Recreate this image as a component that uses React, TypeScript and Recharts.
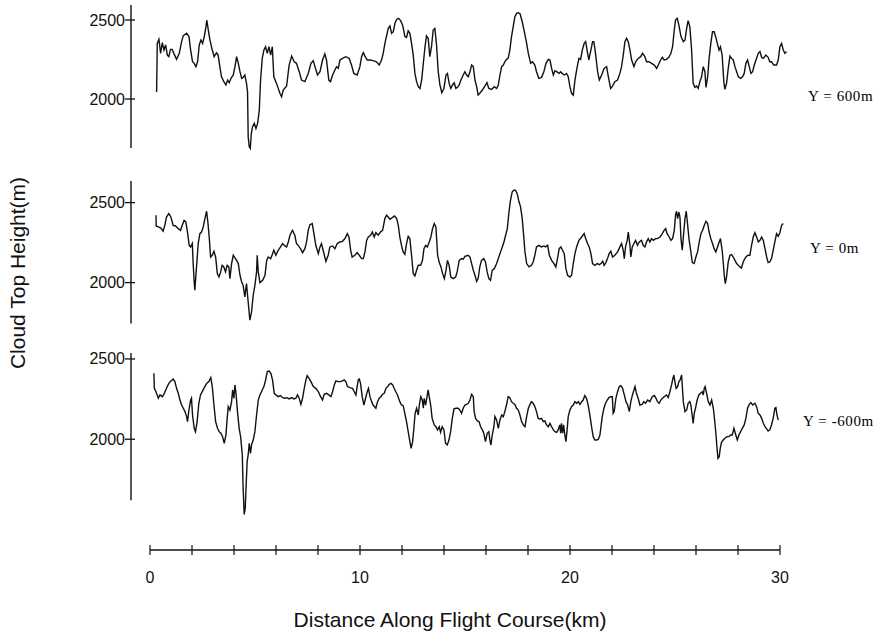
import React from 'react';
import { LineChart, Line, XAxis, YAxis, ReferenceLine } from 'recharts';

// distance along flight course (km), cloud top height (m)
const trackY600: [number, number][] = [
  [0.32, 2045], [0.35, 2352], [0.43, 2378], [0.51, 2289], [0.59, 2357], [0.67, 2310], [0.75, 2342], [0.83, 2278], [0.9, 2268], [0.98, 2314],
  [1.06, 2314], [1.14, 2289], [1.27, 2251], [1.4, 2289], [1.51, 2363], [1.59, 2401], [1.75, 2416], [1.86, 2395], [1.94, 2310], [2.03, 2236],
  [2.11, 2226], [2.19, 2205], [2.27, 2236], [2.35, 2342], [2.43, 2373], [2.51, 2352], [2.59, 2395], [2.67, 2458], [2.71, 2500], [2.78, 2437],
  [2.86, 2373], [2.97, 2310], [3.06, 2268], [3.17, 2293], [3.25, 2278], [3.33, 2205], [3.41, 2141], [3.52, 2110], [3.62, 2089], [3.7, 2120],
  [3.78, 2103], [3.86, 2131], [3.97, 2152], [4.05, 2205], [4.13, 2268], [4.21, 2226], [4.29, 2173], [4.37, 2131], [4.44, 2137], [4.52, 2152],
  [4.6, 2099], [4.65, 2046], [4.68, 1762], [4.73, 1698], [4.78, 1688], [4.83, 1783], [4.89, 1825], [4.97, 1846], [5.05, 1814], [5.13, 1846],
  [5.21, 1930], [5.27, 2120], [5.35, 2257], [5.43, 2310], [5.51, 2331], [5.59, 2289], [5.67, 2331], [5.75, 2278], [5.83, 2331], [5.9, 2141],
  [6.03, 2099], [6.19, 2036], [6.27, 2015], [6.35, 2057], [6.51, 2082], [6.63, 2215], [6.75, 2272], [6.87, 2236], [6.98, 2226], [7.11, 2173],
  [7.22, 2120], [7.38, 2110], [7.54, 2162], [7.67, 2226], [7.78, 2243], [7.86, 2205], [7.98, 2152], [8.1, 2173], [8.22, 2247], [8.33, 2285],
  [8.41, 2247], [8.52, 2120], [8.6, 2110], [8.7, 2152], [8.81, 2184], [8.89, 2205], [8.97, 2194], [9.05, 2247], [9.17, 2257], [9.33, 2268],
  [9.49, 2257], [9.6, 2215], [9.71, 2162], [9.87, 2152], [10, 2205], [10.08, 2268], [10.16, 2293], [10.24, 2272], [10.35, 2247], [10.48, 2247],
  [10.63, 2243], [10.79, 2236], [10.92, 2215], [11.03, 2247], [11.11, 2289], [11.19, 2352], [11.27, 2399], [11.35, 2447], [11.43, 2462], [11.51, 2416],
  [11.59, 2426], [11.67, 2479], [11.75, 2504], [11.84, 2511], [11.94, 2496], [12.03, 2468], [12.1, 2426], [12.14, 2395], [12.22, 2390], [12.3, 2432],
  [12.38, 2416], [12.46, 2352], [12.54, 2278], [12.62, 2162], [12.7, 2110], [12.78, 2078], [12.86, 2067], [12.94, 2120], [13.02, 2226], [13.1, 2331],
  [13.17, 2399], [13.25, 2384], [13.33, 2268], [13.41, 2331], [13.49, 2437], [13.57, 2447], [13.65, 2342], [13.73, 2173], [13.81, 2089], [13.9, 2040],
  [14, 2067], [14.1, 2152], [14.17, 2162], [14.25, 2099], [14.33, 2067], [14.41, 2089], [14.49, 2103], [14.57, 2067], [14.65, 2074], [14.73, 2089],
  [14.81, 2120], [14.92, 2152], [15, 2173], [15.08, 2152], [15.16, 2141], [15.24, 2173], [15.32, 2215], [15.4, 2205], [15.48, 2120], [15.56, 2078],
  [15.63, 2025], [15.71, 2036], [15.83, 2057], [15.95, 2082], [16.05, 2103], [16.14, 2067], [16.27, 2061], [16.4, 2078], [16.51, 2067], [16.59, 2089],
  [16.67, 2152], [16.75, 2205], [16.83, 2215], [16.9, 2236], [16.98, 2251], [17.06, 2257], [17.14, 2310], [17.22, 2395], [17.3, 2458], [17.38, 2521],
  [17.46, 2542], [17.54, 2546], [17.63, 2538], [17.73, 2489], [17.83, 2426], [17.94, 2352], [18.02, 2289], [18.13, 2226], [18.22, 2236], [18.33, 2215],
  [18.41, 2173], [18.52, 2131], [18.65, 2137], [18.76, 2173], [18.86, 2226], [18.97, 2251], [19.05, 2247], [19.13, 2194], [19.21, 2152], [19.29, 2179],
  [19.37, 2173], [19.48, 2162], [19.56, 2173], [19.63, 2162], [19.73, 2152], [19.84, 2162], [19.92, 2141], [20, 2078], [20.08, 2036], [20.16, 2025],
  [20.24, 2120], [20.35, 2205], [20.43, 2257], [20.51, 2251], [20.59, 2310], [20.68, 2352], [20.75, 2363], [20.83, 2300], [20.9, 2247], [21, 2310],
  [21.08, 2363], [21.14, 2363], [21.22, 2289], [21.32, 2173], [21.4, 2120], [21.51, 2152], [21.63, 2194], [21.75, 2205], [21.83, 2141], [21.94, 2067],
  [22.03, 2082], [22.14, 2110], [22.27, 2120], [22.38, 2162], [22.46, 2205], [22.54, 2278], [22.62, 2363], [22.7, 2384], [22.78, 2363], [22.86, 2310],
  [22.94, 2247], [23.05, 2205], [23.13, 2236], [23.25, 2257], [23.37, 2268], [23.46, 2289], [23.57, 2268], [23.65, 2236], [23.76, 2236], [23.89, 2226],
  [24.02, 2215], [24.13, 2194], [24.21, 2215], [24.32, 2247], [24.4, 2264], [24.49, 2247], [24.6, 2251], [24.71, 2264], [24.81, 2289], [24.89, 2331],
  [24.97, 2437], [25.03, 2500], [25.11, 2511], [25.19, 2468], [25.29, 2395], [25.4, 2363], [25.48, 2373], [25.56, 2447], [25.63, 2496], [25.71, 2458],
  [25.79, 2321], [25.87, 2099], [25.95, 2074], [26.03, 2082], [26.11, 2067], [26.19, 2110], [26.27, 2141], [26.35, 2205], [26.43, 2173], [26.48, 2074],
  [26.56, 2141], [26.63, 2257], [26.71, 2352], [26.79, 2426], [26.87, 2426], [26.94, 2395], [27.02, 2352], [27.1, 2310], [27.17, 2331], [27.25, 2278],
  [27.33, 2110], [27.38, 2061], [27.46, 2099], [27.54, 2194], [27.62, 2272], [27.7, 2257], [27.78, 2247], [27.86, 2205], [27.94, 2173], [28.02, 2141],
  [28.13, 2131], [28.22, 2141], [28.3, 2162], [28.38, 2226], [28.46, 2247], [28.54, 2205], [28.62, 2162], [28.7, 2173], [28.78, 2215], [28.86, 2247],
  [28.97, 2289], [29.05, 2300], [29.13, 2264], [29.21, 2257], [29.33, 2278], [29.44, 2264], [29.52, 2236], [29.6, 2236], [29.71, 2215], [29.84, 2215],
  [29.92, 2247], [30, 2331], [30.08, 2352], [30.16, 2310], [30.24, 2289], [30.32, 2300],
];

const trackY0: [number, number][] = [
  [0.29, 2421], [0.3, 2354], [0.4, 2348], [0.52, 2341], [0.63, 2321], [0.71, 2358], [0.79, 2410], [0.9, 2431], [1, 2410], [1.11, 2358],
  [1.22, 2354], [1.35, 2337], [1.46, 2327], [1.54, 2358], [1.63, 2389], [1.71, 2379], [1.79, 2316], [1.87, 2233], [1.94, 2223], [2.02, 2244],
  [2.06, 2119], [2.11, 2004], [2.14, 1952], [2.19, 2046], [2.25, 2150], [2.3, 2244], [2.38, 2306], [2.46, 2316], [2.54, 2348], [2.62, 2400],
  [2.7, 2446], [2.76, 2379], [2.83, 2275], [2.89, 2160], [2.97, 2171], [3.05, 2196], [3.13, 2160], [3.21, 2056], [3.29, 2035], [3.37, 2067],
  [3.44, 2108], [3.52, 2098], [3.6, 2067], [3.68, 2108], [3.76, 2098], [3.81, 2025], [3.89, 2119], [3.97, 2171], [4.05, 2154], [4.13, 2139],
  [4.21, 2119], [4.29, 2046], [4.37, 2004], [4.44, 1983], [4.52, 1910], [4.6, 1994], [4.65, 1921], [4.71, 1837], [4.76, 1765], [4.84, 1817],
  [4.92, 1921], [5, 1983], [5.08, 2067], [5.11, 2171], [5.16, 2067], [5.24, 2000], [5.37, 2014], [5.48, 2046], [5.56, 2139], [5.63, 2160],
  [5.75, 2150], [5.83, 2175], [5.9, 2202], [6, 2171], [6.11, 2202], [6.22, 2223], [6.32, 2244], [6.43, 2229], [6.51, 2223], [6.59, 2254],
  [6.67, 2296], [6.79, 2327], [6.9, 2296], [6.98, 2244], [7.06, 2233], [7.17, 2212], [7.27, 2187], [7.38, 2212], [7.46, 2254], [7.54, 2327],
  [7.62, 2362], [7.73, 2369], [7.81, 2306], [7.9, 2233], [8.02, 2181], [8.1, 2223], [8.17, 2244], [8.25, 2202], [8.38, 2133], [8.49, 2171],
  [8.57, 2223], [8.7, 2229], [8.81, 2212], [8.92, 2244], [9.05, 2254], [9.17, 2258], [9.29, 2275], [9.4, 2306], [9.48, 2285], [9.56, 2202],
  [9.63, 2160], [9.76, 2171], [9.87, 2187], [9.97, 2171], [10.08, 2150], [10.16, 2150], [10.24, 2192], [10.32, 2264], [10.4, 2285], [10.51, 2296],
  [10.59, 2316], [10.68, 2285], [10.76, 2312], [10.87, 2296], [10.98, 2316], [11.08, 2327], [11.19, 2400], [11.27, 2421], [11.35, 2410], [11.43, 2396],
  [11.54, 2406], [11.65, 2416], [11.75, 2400], [11.83, 2358], [11.9, 2285], [11.98, 2233], [12.06, 2192], [12.14, 2177], [12.22, 2244], [12.3, 2289],
  [12.38, 2275], [12.46, 2171], [12.54, 2056], [12.62, 2042], [12.7, 2077], [12.78, 2108], [12.89, 2108], [12.98, 2139], [13.05, 2212], [13.13, 2233],
  [13.21, 2223], [13.3, 2254], [13.38, 2285], [13.46, 2337], [13.54, 2369], [13.62, 2348], [13.7, 2171], [13.78, 2125], [13.86, 2098], [13.94, 2056],
  [14.02, 2025], [14.1, 2077], [14.17, 2139], [14.25, 2108], [14.33, 2035], [14.44, 2025], [14.56, 2035], [14.63, 2067], [14.73, 2139], [14.84, 2150],
  [14.92, 2146], [15, 2164], [15.16, 2171], [15.24, 2160], [15.32, 2119], [15.4, 2077], [15.48, 2046], [15.56, 2008], [15.63, 2025], [15.71, 2098],
  [15.79, 2139], [15.9, 2150], [15.98, 2129], [16.06, 2067], [16.14, 2025], [16.22, 2014], [16.3, 2077], [16.4, 2087], [16.51, 2119], [16.59, 2150],
  [16.7, 2192], [16.78, 2223], [16.86, 2254], [16.94, 2296], [17.02, 2337], [17.1, 2441], [17.17, 2514], [17.25, 2566], [17.33, 2577], [17.41, 2577],
  [17.49, 2556], [17.57, 2508], [17.65, 2473], [17.73, 2400], [17.79, 2306], [17.86, 2192], [17.94, 2119], [18.05, 2098], [18.17, 2108], [18.25, 2129],
  [18.33, 2171], [18.41, 2223], [18.52, 2233], [18.65, 2223], [18.76, 2229], [18.84, 2223], [18.94, 2233], [19.02, 2171], [19.13, 2139], [19.24, 2119],
  [19.33, 2098], [19.41, 2150], [19.49, 2212], [19.57, 2223], [19.65, 2202], [19.73, 2181], [19.81, 2087], [19.89, 2046], [20, 2035], [20.08, 2046],
  [20.16, 2119], [20.24, 2181], [20.32, 2223], [20.43, 2264], [20.56, 2285], [20.68, 2306], [20.75, 2275], [20.84, 2244], [20.92, 2223], [21, 2181],
  [21.08, 2119], [21.19, 2108], [21.3, 2119], [21.4, 2112], [21.48, 2119], [21.56, 2133], [21.63, 2108], [21.71, 2125], [21.79, 2150], [21.87, 2181],
  [21.95, 2196], [22.03, 2160], [22.14, 2171], [22.27, 2192], [22.38, 2223], [22.46, 2244], [22.54, 2202], [22.59, 2150], [22.65, 2223], [22.73, 2264],
  [22.78, 2316], [22.86, 2233], [22.9, 2160], [22.97, 2223], [23.05, 2244], [23.13, 2264], [23.22, 2233], [23.3, 2254], [23.41, 2264], [23.49, 2233],
  [23.57, 2223], [23.65, 2254], [23.73, 2275], [23.81, 2254], [23.89, 2275], [23.97, 2264], [24.08, 2275], [24.17, 2275], [24.29, 2285], [24.4, 2306],
  [24.49, 2327], [24.56, 2337], [24.63, 2306], [24.73, 2285], [24.81, 2264], [24.89, 2275], [24.97, 2327], [25.03, 2421], [25.08, 2446], [25.13, 2400],
  [25.19, 2441], [25.24, 2410], [25.29, 2275], [25.35, 2202], [25.41, 2296], [25.48, 2400], [25.54, 2446], [25.6, 2369], [25.67, 2275], [25.75, 2202],
  [25.83, 2125], [25.92, 2119], [26, 2160], [26.08, 2192], [26.16, 2254], [26.24, 2306], [26.32, 2327], [26.4, 2358], [26.48, 2383], [26.56, 2369],
  [26.63, 2316], [26.71, 2275], [26.79, 2244], [26.87, 2212], [26.95, 2192], [27.03, 2223], [27.11, 2254], [27.17, 2275], [27.25, 2202], [27.3, 2129],
  [27.35, 2046], [27.4, 1994], [27.46, 2035], [27.54, 2129], [27.62, 2171], [27.7, 2175], [27.78, 2160], [27.86, 2139], [27.94, 2119], [28.02, 2108],
  [28.1, 2098], [28.17, 2091], [28.25, 2129], [28.33, 2150], [28.41, 2164], [28.49, 2171], [28.57, 2171], [28.65, 2233], [28.73, 2285], [28.81, 2312],
  [28.89, 2285], [28.97, 2254], [29.05, 2264], [29.13, 2285], [29.21, 2264], [29.29, 2212], [29.37, 2160], [29.44, 2125], [29.52, 2129], [29.6, 2150],
  [29.68, 2202], [29.76, 2254], [29.84, 2306], [29.92, 2289], [30, 2312], [30.08, 2358], [30.16, 2369],
];

const trackYm600: [number, number][] = [
  [0.19, 2411], [0.21, 2317], [0.29, 2296], [0.4, 2255], [0.48, 2276], [0.59, 2265], [0.67, 2280], [0.79, 2317], [0.9, 2348], [1, 2363],
  [1.11, 2375], [1.19, 2359], [1.27, 2317], [1.35, 2286], [1.43, 2244], [1.51, 2213], [1.59, 2193], [1.67, 2172], [1.75, 2141], [1.79, 2110],
  [1.86, 2182], [1.94, 2244], [1.98, 2255], [2.03, 2151], [2.11, 2068], [2.17, 2047], [2.25, 2110], [2.33, 2224], [2.41, 2276], [2.51, 2301],
  [2.59, 2321], [2.7, 2348], [2.81, 2359], [2.9, 2384], [2.97, 2328], [3.05, 2213], [3.13, 2110], [3.22, 2068], [3.3, 2047], [3.38, 2037],
  [3.46, 2016], [3.54, 1975], [3.62, 2026], [3.68, 2130], [3.73, 2203], [3.81, 2182], [3.89, 2234], [3.94, 2307], [4, 2255], [4.05, 2338],
  [4.1, 2286], [4.17, 2172], [4.25, 2068], [4.32, 2016], [4.4, 1902], [4.44, 1694], [4.49, 1532], [4.54, 1570], [4.59, 1736], [4.63, 1860],
  [4.68, 1902], [4.73, 1975], [4.79, 1912], [4.84, 1964], [4.92, 1995], [5, 2047], [5.08, 2151], [5.16, 2244], [5.24, 2276], [5.35, 2307],
  [5.43, 2328], [5.51, 2369], [5.59, 2421], [5.68, 2425], [5.76, 2411], [5.84, 2369], [5.92, 2286], [6, 2276], [6.11, 2265], [6.22, 2272],
  [6.32, 2259], [6.43, 2255], [6.54, 2259], [6.63, 2251], [6.75, 2259], [6.86, 2251], [6.95, 2255], [7.03, 2276], [7.11, 2255], [7.19, 2217],
  [7.27, 2255], [7.35, 2317], [7.43, 2369], [7.49, 2396], [7.57, 2380], [7.67, 2359], [7.78, 2328], [7.9, 2317], [8.02, 2296], [8.13, 2265],
  [8.22, 2244], [8.3, 2280], [8.41, 2286], [8.52, 2276], [8.62, 2265], [8.7, 2296], [8.78, 2338], [8.86, 2363], [8.97, 2359], [9.08, 2359],
  [9.17, 2363], [9.25, 2369], [9.33, 2359], [9.41, 2328], [9.52, 2321], [9.65, 2317], [9.73, 2296], [9.81, 2276], [9.87, 2328], [9.92, 2369],
  [9.97, 2375], [10.03, 2348], [10.11, 2265], [10.19, 2213], [10.27, 2255], [10.35, 2296], [10.41, 2317], [10.48, 2265], [10.56, 2234], [10.63, 2213],
  [10.76, 2193], [10.84, 2234], [10.92, 2255], [11, 2265], [11.08, 2280], [11.16, 2286], [11.24, 2317], [11.32, 2328], [11.4, 2342], [11.48, 2348],
  [11.56, 2338], [11.63, 2317], [11.71, 2296], [11.79, 2276], [11.9, 2234], [11.98, 2213], [12.06, 2209], [12.14, 2161], [12.22, 2110], [12.3, 2047],
  [12.38, 1985], [12.44, 1943], [12.51, 1985], [12.57, 2068], [12.63, 2161], [12.7, 2193], [12.78, 2151], [12.83, 2213], [12.9, 2265], [12.97, 2244],
  [13.02, 2193], [13.06, 2255], [13.13, 2213], [13.21, 2276], [13.25, 2307], [13.3, 2265], [13.37, 2213], [13.44, 2130], [13.54, 2089], [13.62, 2078],
  [13.7, 2058], [13.78, 2078], [13.84, 2043], [13.92, 2078], [14, 2058], [14.08, 1975], [14.16, 1964], [14.24, 1995], [14.32, 2047], [14.4, 2130],
  [14.48, 2189], [14.57, 2193], [14.68, 2193], [14.76, 2182], [14.84, 2161], [14.92, 2193], [15, 2213], [15.08, 2217], [15.16, 2224], [15.24, 2244],
  [15.32, 2280], [15.4, 2265], [15.44, 2172], [15.51, 2130], [15.59, 2114], [15.67, 2110], [15.75, 2078], [15.83, 2058], [15.9, 2037], [15.98, 1985],
  [16.06, 2037], [16.14, 2047], [16.19, 1995], [16.24, 1964], [16.3, 2026], [16.38, 2078], [16.43, 2141], [16.51, 2120], [16.59, 2068], [16.67, 2120],
  [16.75, 2151], [16.83, 2141], [16.9, 2172], [16.98, 2213], [17.06, 2265], [17.14, 2259], [17.22, 2234], [17.3, 2224], [17.38, 2217], [17.46, 2193],
  [17.54, 2182], [17.62, 2151], [17.7, 2110], [17.78, 2089], [17.86, 2078], [17.94, 2141], [18.02, 2193], [18.1, 2217], [18.17, 2234], [18.25, 2224],
  [18.33, 2203], [18.41, 2172], [18.49, 2130], [18.57, 2126], [18.65, 2130], [18.73, 2110], [18.81, 2114], [18.89, 2089], [18.97, 2078], [19.05, 2099],
  [19.13, 2078], [19.21, 2058], [19.29, 2047], [19.37, 2043], [19.44, 2058], [19.52, 2089], [19.56, 2037], [19.6, 2099], [19.65, 2037], [19.7, 2089],
  [19.76, 2026], [19.81, 1985], [19.86, 2047], [19.92, 2141], [20, 2182], [20.08, 2203], [20.16, 2213], [20.24, 2234], [20.32, 2224], [20.4, 2234],
  [20.48, 2217], [20.56, 2234], [20.63, 2244], [20.71, 2272], [20.79, 2255], [20.87, 2213], [20.95, 2151], [21.03, 2078], [21.11, 2016], [21.19, 1995],
  [21.27, 1995], [21.35, 1999], [21.43, 2026], [21.48, 2078], [21.54, 2141], [21.62, 2193], [21.7, 2224], [21.78, 2244], [21.86, 2259], [21.94, 2265],
  [22.02, 2265], [22.06, 2161], [22.11, 2172], [22.19, 2255], [22.27, 2296], [22.35, 2328], [22.43, 2334], [22.51, 2317], [22.59, 2276], [22.67, 2234],
  [22.75, 2213], [22.83, 2172], [22.9, 2234], [22.98, 2276], [23.1, 2328], [23.17, 2286], [23.25, 2255], [23.33, 2213], [23.44, 2217], [23.52, 2234],
  [23.6, 2224], [23.7, 2244], [23.81, 2234], [23.92, 2265], [24.02, 2272], [24.1, 2255], [24.17, 2234], [24.25, 2224], [24.33, 2244], [24.41, 2255],
  [24.49, 2265], [24.6, 2276], [24.68, 2259], [24.76, 2296], [24.84, 2338], [24.9, 2375], [24.95, 2400], [25, 2359], [25.06, 2317], [25.13, 2328],
  [25.19, 2359], [25.25, 2369], [25.32, 2400], [25.35, 2338], [25.4, 2234], [25.48, 2172], [25.56, 2182], [25.63, 2224], [25.71, 2234], [25.76, 2213],
  [25.83, 2141], [25.87, 2099], [25.92, 2161], [25.98, 2193], [26.06, 2244], [26.14, 2276], [26.22, 2286], [26.3, 2296], [26.35, 2276], [26.4, 2317],
  [26.44, 2328], [26.51, 2286], [26.59, 2234], [26.67, 2213], [26.75, 2244], [26.83, 2193], [26.9, 2110], [26.95, 2037], [27, 1954], [27.05, 1881],
  [27.11, 1891], [27.16, 1943], [27.22, 1981], [27.3, 1995], [27.38, 2006], [27.49, 2016], [27.57, 2016], [27.65, 2026], [27.73, 2026], [27.81, 2068],
  [27.89, 2031], [27.97, 1995], [28.05, 2026], [28.13, 2047], [28.21, 2068], [28.3, 2089], [28.38, 2130], [28.46, 2193], [28.54, 2217], [28.62, 2228],
  [28.7, 2213], [28.81, 2224], [28.89, 2203], [28.97, 2161], [29.05, 2151], [29.13, 2130], [29.21, 2099], [29.29, 2078], [29.37, 2064], [29.44, 2051],
  [29.52, 2058], [29.6, 2089], [29.68, 2130], [29.76, 2193], [29.81, 2197], [29.86, 2151], [29.92, 2120],
];

const xTicks = [0, 2, 4, 6, 8, 10, 12, 14, 16, 18, 20, 22, 24, 26, 28, 30];
const xTickLabels = [0, 10, 20, 30];
const yTicks = [2000, 2500];
const panelLabels = ['Y = 600m', 'Y = 0m', 'Y = -600m'];

const W = 891;
const H = 635;
const SANS = '"Liberation Sans", Arial, Helvetica, sans-serif';
const INK = '#111';
const X_DOMAIN: [number, number] = [-0.9, 30.5];
const AXIS_W = 131;
const PLOT_W = 659.4;

const toRows = (track: [number, number][]) => track.map(([km, m]) => ({ km, m }));

const panels = [
  { track: trackY600, domain: [1685, 2595], axisLow: 1690, top: 5, bottom: 148.8, labelTop: 88, labelLeft: 808 },
  { track: trackY0, domain: [1745, 2635], axisLow: 1745, top: 181, bottom: 323.4, labelTop: 240, labelLeft: 810 },
  { track: trackYm600, domain: [1525, 2537], axisLow: 1620, top: 353, bottom: 515.5, labelTop: 413, labelLeft: 803 },
];

const YTick = (props: any) => {
  const { x, y, payload } = props;
  return (
    <g>
      <line x1={x - 6} x2={x + 4} y1={y} y2={y} stroke={INK} strokeWidth={1.3} />
      <text x={x - 6} y={y} textAnchor="end" dominantBaseline="central" fontSize={16} fontFamily={SANS} fill={INK}>
        {payload.value}
      </text>
    </g>
  );
};

const XTick = (props: any) => {
  const { x, y, payload } = props;
  const labelled = xTickLabels.includes(payload.value);
  return (
    <g>
      <line x1={x} x2={x} y1={y - 5} y2={y + 5} stroke={INK} strokeWidth={1.2} />
      {labelled && (
        <text x={x} y={y + 27} textAnchor="middle" dominantBaseline="central" fontSize={16} fontFamily={SANS} fill={INK}>
          {payload.value}
        </text>
      )}
    </g>
  );
};

const abs: React.CSSProperties = { position: 'absolute', left: 0, top: 0 };

export default function App() {
  return (
    <div style={{ ...abs, width: W, height: H, background: '#fff', overflow: 'hidden' }}>
      {panels.map((p, i) => (
        <div key={i} style={abs}>
          <LineChart
            width={W}
            height={H}
            data={toRows(p.track)}
            margin={{ top: p.top, bottom: H - p.bottom, left: 0, right: W - AXIS_W - PLOT_W }}
          >
            <XAxis dataKey="km" type="number" domain={X_DOMAIN} hide />
            <YAxis
              type="number"
              domain={p.domain}
              ticks={yTicks}
              interval={0}
              width={AXIS_W}
              axisLine={false}
              tickLine={false}
              tickSize={0}
              tickMargin={0}
              tick={(t: any) => <YTick {...t} />}
            />
            <ReferenceLine
              segment={[{ x: X_DOMAIN[0], y: p.axisLow }, { x: X_DOMAIN[0], y: p.domain[1] }]}
              stroke={INK}
              strokeWidth={1.4}
              ifOverflow="visible"
            />
            <Line dataKey="m" type="linear" dot={false} stroke={INK} strokeWidth={1.4} isAnimationActive={false} />
          </LineChart>
        </div>
      ))}

      <div style={abs}>
        <LineChart width={W} height={H} data={xTicks.map((k) => ({ km: k }))} margin={{ top: 540, bottom: 0, left: 150, right: W - 780 }}>
          <XAxis
            dataKey="km"
            type="number"
            domain={[0, 30]}
            ticks={xTicks}
            interval={0}
            height={85}
            axisLine={{ stroke: INK, strokeWidth: 1.3 }}
            tickLine={false}
            tickSize={0}
            tickMargin={0}
            tick={(t: any) => <XTick {...t} />}
          />
          <YAxis hide />
        </LineChart>
      </div>

      {panels.map((p, i) => (
        <div
          key={'l' + i}
          style={{ position: 'absolute', left: p.labelLeft, top: p.labelTop, fontFamily: '"Liberation Serif", "DejaVu Serif", serif', fontSize: 15, letterSpacing: 0.6, color: '#000', whiteSpace: 'nowrap' }}
        >
          {panelLabels[i]}
        </div>
      ))}

      <div
        style={{ position: 'absolute', left: 18, top: 273, transform: 'translate(-50%, -50%) rotate(-90deg)', fontFamily: SANS, fontSize: 21, color: INK, whiteSpace: 'nowrap' }}
      >
        Cloud Top Height(m)
      </div>
      <div
        style={{ position: 'absolute', left: 450, top: 620, transform: 'translate(-50%, -50%)', fontFamily: SANS, fontSize: 21, color: INK, whiteSpace: 'nowrap' }}
      >
        Distance Along Flight Course(km)
      </div>
    </div>
  );
}
